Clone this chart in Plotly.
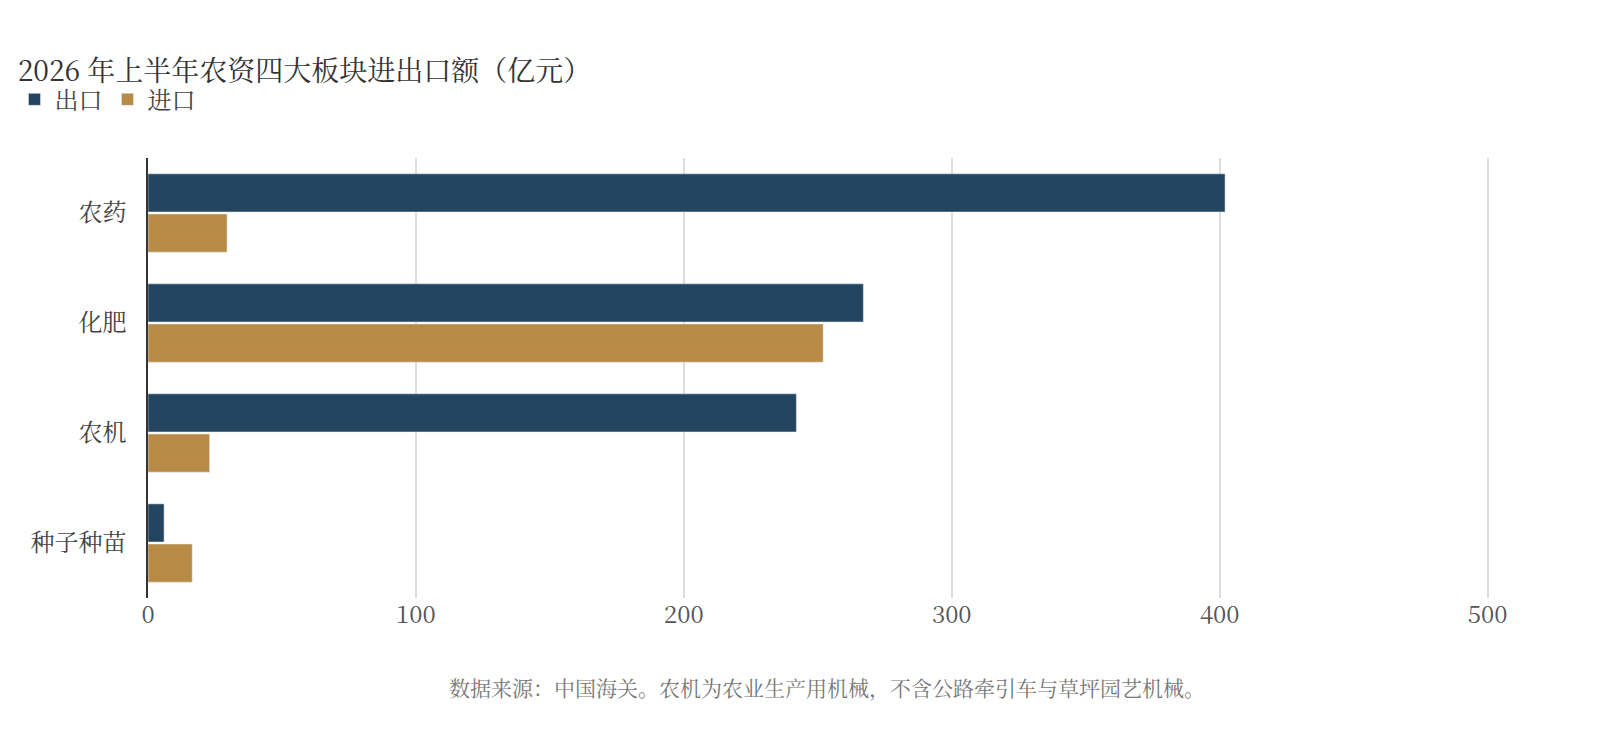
import plotly.graph_objects as go

categories = ["农药", "化肥", "农机", "种子种苗"]
export_vals = [402, 267, 242, 6]
import_vals = [29.5, 252, 23, 16.5]

font = "Noto Serif CJK SC, Noto Sans CJK SC, serif"

fig = go.Figure()
fig.add_trace(go.Bar(y=categories, x=export_vals, name="出口", orientation="h",
                     marker_color="#244560"))
fig.add_trace(go.Bar(y=categories, x=import_vals, name="进口", orientation="h",
                     marker_color="#b78b45"))

fig.update_layout(
    width=1620, height=740,
    barmode="group", bargap=0.27, bargroupgap=0.05,
    plot_bgcolor="white", paper_bgcolor="white",
    font=dict(family=font, size=20, color="#555"),
    title=dict(text="2026 年上半年农资四大板块进出口额（亿元）", x=0.006, xanchor="left",
               y=0.915, yanchor="middle", font=dict(size=28, color="#333")),
    legend=dict(orientation="h", xref="container", x=0.004, xanchor="left",
                yref="container", y=0.876, yanchor="middle",
                font=dict(size=24, color="#444"), itemwidth=30),
    margin=dict(l=140, r=60, t=150, b=150),
    xaxis=dict(range=[0, 530], tickvals=[0, 100, 200, 300, 400, 500],
               showgrid=True, gridcolor="#dddddd", gridwidth=1.5, zeroline=False,
               ticks="", tickfont=dict(size=24, color="#555")),
    yaxis=dict(autorange="reversed", showline=True, linecolor="#333", linewidth=1.5,
               ticks="", ticklabelstandoff=15, tickfont=dict(size=24, color="#444")),
    annotations=[dict(text="数据来源：中国海关。农机为农业生产用机械，不含公路牵引车与草坪园艺机械。",
                      x=0.478, xref="paper", y=-0.24, yref="paper", showarrow=False,
                      font=dict(size=21, color="#777"))],
)

fig.write_html("out.html")
